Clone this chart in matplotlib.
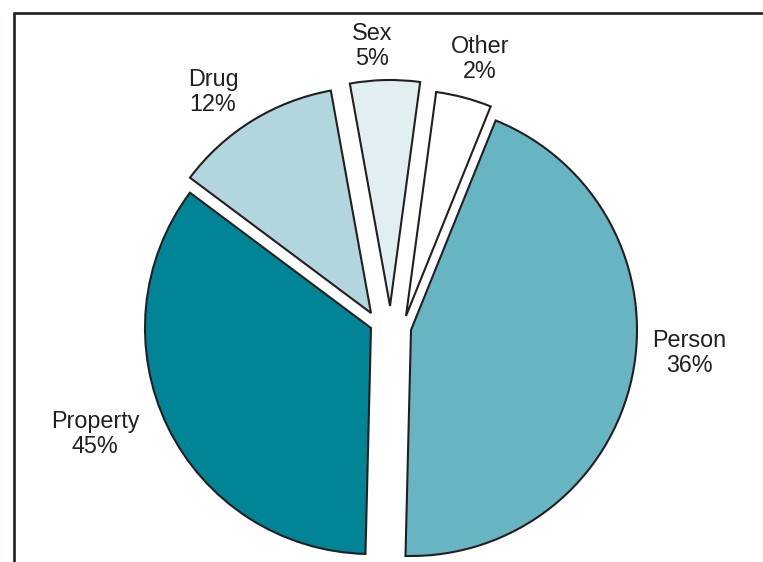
import numpy as np
import matplotlib
matplotlib.use("Agg")
import matplotlib.pyplot as plt

# wedge sizes as drawn in the picture (clockwise from Person)
categories = ["Person", "Property", "Drug", "Sex", "Other"]
sizes = [44.5, 35, 12, 5, 4]
# percentages as printed on the chart
pct_text = ["36%", "45%", "12%", "5%", "2%"]
colors = ["#67b4c2", "#008496", "#b1d6dd", "#e1eff3", "#ffffff"]

W, H = 763, 562
ink = "#231f20"

# layout in pixels (image y goes down)
center = (391, 320)
radius = 226
# apex of each wedge after pulling it out
apex = [(411, 330), (371, 328), (371, 313), (390, 306), (406, 316)]
label_pos = [(689, 353), (95, 434), (213, 92), (372, 46), (480, 59)]

plt.rcParams["font.family"] = ["Liberation Sans", "DejaVu Sans"]

fig = plt.figure(figsize=(W / 100, H / 100), dpi=100)
ax = fig.add_axes([0, 0, 1, 1])

wedges, _ = ax.pie(sizes, colors=colors, startangle=90 - 22,
                   counterclock=False, radius=radius,
                   center=(center[0], H - center[1]),
                   wedgeprops=dict(edgecolor=ink, linewidth=1.5,
                                   joinstyle="miter"))
for w, (px, py) in zip(wedges, apex):
    w.set_center((px, H - py))

for name, txt, (lx, ly) in zip(categories, pct_text, label_pos):
    ax.text(lx, H - ly, f"{name}\n{txt}", ha="center", va="center",
            fontsize=16.8, color=ink, linespacing=1.15)

# box border (left and top only are visible)
ax.plot([13.5, 13.5, W], [0, H - 13, H - 13], color=ink, lw=1.9,
        solid_joinstyle="miter")

ax.set_xlim(0, W)
ax.set_ylim(0, H)
ax.set_aspect("auto")
ax.axis("off")

fig.savefig("out.png", dpi=100)
